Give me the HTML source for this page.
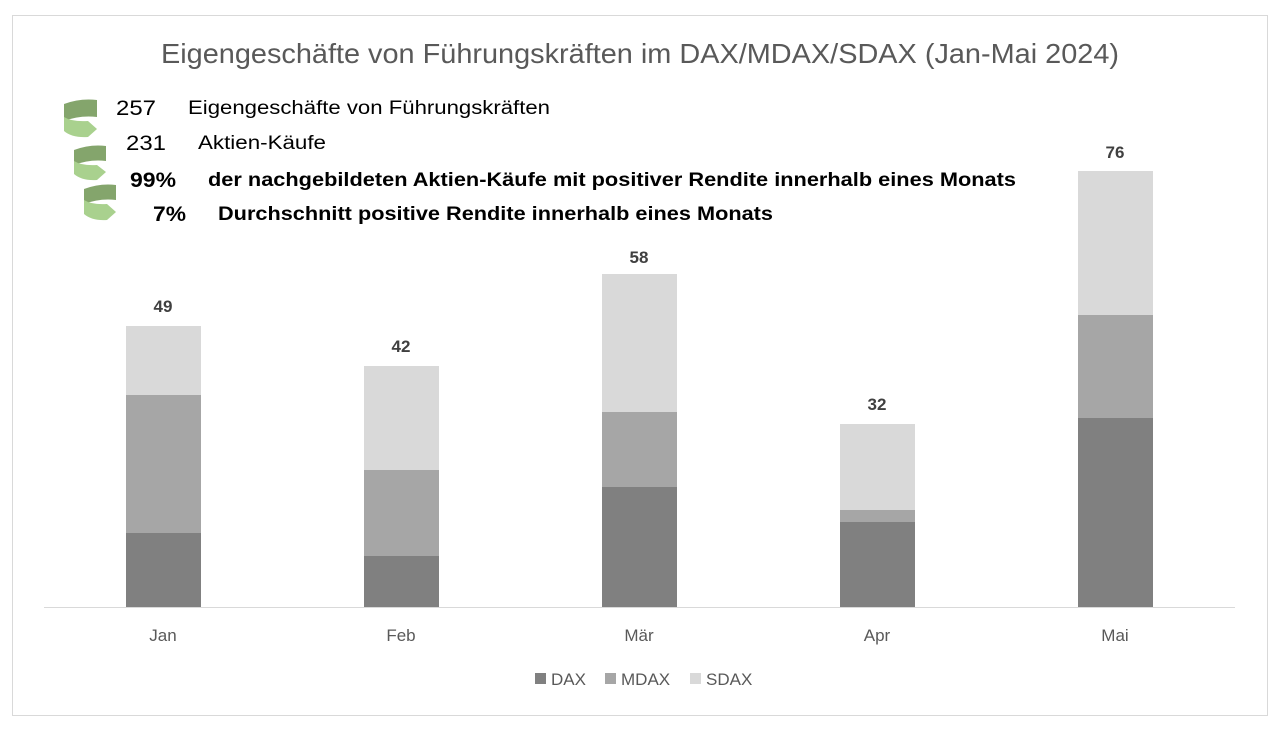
<!DOCTYPE html>
<html><head><meta charset="utf-8"><style>
body{margin:0;background:#fff;font-family:"Liberation Sans",sans-serif;}
svg text{font-family:"Liberation Sans",sans-serif;}
</style></head><body>
<svg width="1282" height="729" xmlns="http://www.w3.org/2000/svg">
<rect x="12.5" y="15.5" width="1255" height="700" fill="#fff" stroke="#d9d9d9"/>
<text x="161" y="63" textLength="958" lengthAdjust="spacingAndGlyphs" font-size="28" fill="#595959">Eigengeschäfte von Führungskräften im DAX/MDAX/SDAX (Jan-Mai 2024)</text>
<g>
<path d="M64 104 Q80 98 97 100 L97 117 Q80 115 64 121 Z" fill="#84a56c"/>
<path d="M64 117 Q72 122 88 121 L97 129 L88 137 Q72 138 64 131 Z" fill="#a9d18e"/>
<path d="M74 150 Q90 144 106 146 L106 161 Q90 159 74 165 Z" fill="#84a56c"/>
<path d="M74 161 Q82 166 97 165 L106 172 L97 180 Q82 181 74 174 Z" fill="#a9d18e"/>
<path d="M84 189 Q100 183 116 185 L116 200 Q100 198 84 204 Z" fill="#84a56c"/>
<path d="M84 200 Q92 205 107 204 L116 212 L107 220 Q92 221 84 214 Z" fill="#a9d18e"/>
</g>
<text x="116" y="115" textLength="40" lengthAdjust="spacingAndGlyphs" font-size="21" fill="#000">257</text>
<text x="188" y="114" textLength="362" lengthAdjust="spacingAndGlyphs" font-size="19" fill="#000">Eigengeschäfte von Führungskräften</text>
<text x="126" y="150" textLength="40" lengthAdjust="spacingAndGlyphs" font-size="21" fill="#000">231</text>
<text x="198" y="149" textLength="128" lengthAdjust="spacingAndGlyphs" font-size="19" fill="#000">Aktien-Käufe</text>
<text x="130" y="187" textLength="46" lengthAdjust="spacingAndGlyphs" font-size="21" font-weight="bold" fill="#000">99%</text>
<text x="208" y="186" textLength="808" lengthAdjust="spacingAndGlyphs" font-size="19" font-weight="bold" fill="#000">der nachgebildeten Aktien-Käufe mit positiver Rendite innerhalb eines Monats</text>
<text x="153" y="221" textLength="33" lengthAdjust="spacingAndGlyphs" font-size="21" font-weight="bold" fill="#000">7%</text>
<text x="218" y="220" textLength="555" lengthAdjust="spacingAndGlyphs" font-size="19" font-weight="bold" fill="#000">Durchschnitt positive Rendite innerhalb eines Monats</text>
<g>
<rect x="126" y="326" width="75" height="69" fill="#d9d9d9"/><rect x="126" y="395" width="75" height="138" fill="#a6a6a6"/><rect x="126" y="533" width="75" height="74" fill="#808080"/>
<rect x="364" y="366" width="75" height="104" fill="#d9d9d9"/><rect x="364" y="470" width="75" height="86" fill="#a6a6a6"/><rect x="364" y="556" width="75" height="51" fill="#808080"/>
<rect x="602" y="274" width="75" height="138" fill="#d9d9d9"/><rect x="602" y="412" width="75" height="75" fill="#a6a6a6"/><rect x="602" y="487" width="75" height="120" fill="#808080"/>
<rect x="840" y="424" width="75" height="86" fill="#d9d9d9"/><rect x="840" y="510" width="75" height="12" fill="#a6a6a6"/><rect x="840" y="522" width="75" height="85" fill="#808080"/>
<rect x="1078" y="171" width="75" height="144" fill="#d9d9d9"/><rect x="1078" y="315" width="75" height="103" fill="#a6a6a6"/><rect x="1078" y="418" width="75" height="189" fill="#808080"/>
</g>
<line x1="44" y1="607.5" x2="1235" y2="607.5" stroke="#d9d9d9"/>
<g font-size="17" font-weight="bold" fill="#404040" text-anchor="middle">
<text x="163" y="312">49</text><text x="401" y="352">42</text><text x="639" y="263">58</text><text x="877" y="410">32</text><text x="1115" y="158">76</text>
</g>
<g font-size="17" fill="#595959" text-anchor="middle">
<text x="163" y="641">Jan</text><text x="401" y="641">Feb</text><text x="639" y="641">Mär</text><text x="877" y="641">Apr</text><text x="1115" y="641">Mai</text>
</g>
<g font-size="17" fill="#595959">
<rect x="535" y="673" width="11" height="11" fill="#808080"/><text x="551" y="685">DAX</text>
<rect x="605" y="673" width="11" height="11" fill="#a6a6a6"/><text x="621" y="685">MDAX</text>
<rect x="690" y="673" width="11" height="11" fill="#d9d9d9"/><text x="706" y="685">SDAX</text>
</g>
</svg>
</body></html>
